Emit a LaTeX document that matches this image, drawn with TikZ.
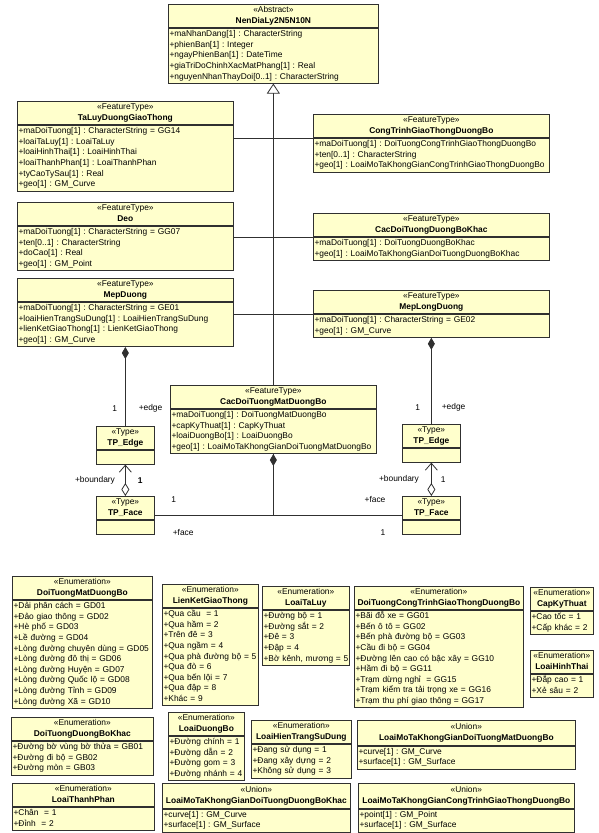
\documentclass[tikz,border=0pt]{standalone}
\usepackage{fontspec}
\setmainfont{Liberation Sans}
\usetikzlibrary{arrows.meta,positioning}
\definecolor{umlfill}{HTML}{FFFFCC}
\definecolor{umlline}{HTML}{303030}
\frenchspacing
\newcommand{\umlfont}{\fontsize{8.4}{10.6}\selectfont}
\newcommand{\umlhd}[2]{\begin{tabular}{@{}c@{}}«#1»\\\textbf{#2}\end{tabular}}
\newcommand{\umlat}[1]{\noindent\begin{tabular}{@{\hspace{1.2pt}}l@{}}#1\end{tabular}}
\tikzset{
  umlhead/.style={draw=umlline, line width=0.7pt, fill=umlfill, anchor=north west, inner xsep=0pt, inner ysep=1pt, font=\umlfont},
  unionhead/.style={umlhead, inner ysep=1.8pt},
  umlbody/.style={draw=umlline, line width=0.7pt, fill=umlfill, anchor=north west, inner xsep=0pt, inner ysep=1pt, align=left, font=\umlfont},
  lbl/.style={font=\umlfont, inner sep=1pt},
  conn/.style={draw=umlline, line width=0.8pt},
  genarrow/.style={conn, -{Triangle[open, fill=white, length=10pt, width=13pt]}},
  compo/.style={conn, {Diamond[length=12pt, width=7pt]}-},
  aggr/.style={conn, {Diamond[open, fill=white, length=13pt, width=8pt]}-{Straight Barb[length=7pt, width=12pt]}},
}

\begin{document}
\begin{tikzpicture}[x=1pt, y=-1pt]
    \useasboundingbox (0,0) rectangle (599,833);

    % Abstract base class
    \node[umlhead, minimum width=210pt] (nen) at (168,4) {\umlhd{Abstract}{NenDiaLy2N5N10N}};
    \node[umlbody, text width=210pt] (nen-b) at (nen.south west) {\umlat{+maNhanDang[1] : CharacterString\\+phienBan[1] : Integer\\+ngayPhienBan[1] : DateTime\\+giaTriDoChinhXacMatPhang[1] : Real\\+nguyenNhanThayDoi[0..1] : CharacterString}};

    % Feature types, left column
    \node[umlhead, minimum width=216pt] (taluy) at (17,101) {\umlhd{FeatureType}{TaLuyDuongGiaoThong}};
    \node[umlbody, text width=216pt] (taluy-b) at (taluy.south west) {\umlat{+maDoiTuong[1] : CharacterString = GG14\\+loaiTaLuy[1] : LoaiTaLuy\\+loaiHinhThai[1] : LoaiHinhThai\\+loaiThanhPhan[1] : LoaiThanhPhan\\+tyCaoTySau[1] : Real\\+geo[1] : GM\_Curve}};

    \node[umlhead, minimum width=216pt] (deo) at (17,202) {\umlhd{FeatureType}{Deo}};
    \node[umlbody, text width=216pt] (deo-b) at (deo.south west) {\umlat{+maDoiTuong[1] : CharacterString = GG07\\+ten[0..1] : CharacterString\\+doCao[1] : Real\\+geo[1] : GM\_Point}};

    \node[umlhead, minimum width=216pt] (mepduong) at (17,278) {\umlhd{FeatureType}{MepDuong}};
    \node[umlbody, text width=216pt] (mepduong-b) at (mepduong.south west) {\umlat{+maDoiTuong[1] : CharacterString = GE01\\+loaiHienTrangSuDung[1] : LoaiHienTrangSuDung\\+lienKetGiaoThong[1] : LienKetGiaoThong\\+geo[1] : GM\_Curve}};

    % Feature types, right column
    \node[umlhead, minimum width=236pt] (congtrinh) at (313,114) {\umlhd{FeatureType}{CongTrinhGiaoThongDuongBo}};
    \node[umlbody, text width=236pt] (congtrinh-b) at (congtrinh.south west) {\umlat{+maDoiTuong[1] : DoiTuongCongTrinhGiaoThongDuongBo\\+ten[0..1] : CharacterString\\+geo[1] : LoaiMoTaKhongGianCongTrinhGiaoThongDuongBo}};

    \node[umlhead, minimum width=236pt] (cacbokhac) at (313,213) {\umlhd{FeatureType}{CacDoiTuongDuongBoKhac}};
    \node[umlbody, text width=236pt] (cacbokhac-b) at (cacbokhac.south west) {\umlat{+maDoiTuong[1] : DoiTuongDuongBoKhac\\+geo[1] : LoaiMoTaKhongGianDoiTuongDuongBoKhac}};

    \node[umlhead, minimum width=236pt] (meplong) at (313,290) {\umlhd{FeatureType}{MepLongDuong}};
    \node[umlbody, text width=236pt] (meplong-b) at (meplong.south west) {\umlat{+maDoiTuong[1] : CharacterString = GE02\\+geo[1] : GM\_Curve}};

    % Middle feature type
    \node[umlhead, minimum width=206pt] (cacmat) at (170,385) {\umlhd{FeatureType}{CacDoiTuongMatDuongBo}};
    \node[umlbody, text width=206pt] (cacmat-b) at (cacmat.south west) {\umlat{+maDoiTuong[1] : DoiTuongMatDuongBo\\+capKyThuat[1] : CapKyThuat\\+loaiDuongBo[1] : LoaiDuongBo\\+geo[1] : LoaiMoTaKhongGianDoiTuongMatDuongBo}};

    % Topology types
    \node[umlhead, minimum width=58pt] (edgeL) at (96,426) {\umlhd{Type}{TP\_Edge}};
    \node[umlbody, text width=58pt, minimum height=14pt] (edgeL-b) at (edgeL.south west) {};
    \node[umlhead, minimum width=58pt] (faceL) at (96,496) {\umlhd{Type}{TP\_Face}};
    \node[umlbody, text width=58pt, minimum height=14pt] (faceL-b) at (faceL.south west) {};
    \node[umlhead, minimum width=58pt] (edgeR) at (402,424) {\umlhd{Type}{TP\_Edge}};
    \node[umlbody, text width=58pt, minimum height=14pt] (edgeR-b) at (edgeR.south west) {};
    \node[umlhead, minimum width=58pt] (faceR) at (402,496) {\umlhd{Type}{TP\_Face}};
    \node[umlbody, text width=58pt, minimum height=14pt] (faceR-b) at (faceR.south west) {};

    % Generalization
    \draw[genarrow] (cacmat.north) -- (nen-b.south);
    \draw[conn] (congtrinh-b.north west) -- (congtrinh-b.north west -| taluy.east);
    \draw[conn] (cacbokhac-b.north west) -- (cacbokhac-b.north west -| deo.east);
    \draw[conn] (meplong-b.north west) -- (meplong-b.north west -| mepduong.east);

    % Edges and faces
    \draw[compo] (mepduong-b.south) -- (edgeL.north)
        node[lbl, pos=0.78, left=7pt] {1} node[lbl, pos=0.78, right=12pt] {+edge};
    \draw[compo] (meplong-b.south) -- (edgeR.north)
        node[lbl, pos=0.81, left=10pt] {1} node[lbl, pos=0.81, right=9pt] {+edge};
    \draw[aggr] (faceL.north) -- (edgeL-b.south)
        node[lbl, midway, left=9pt] {+boundary} node[lbl, midway, right=11pt] {\textbf{1}};
    \draw[aggr] (faceR.north) -- (edgeR-b.south)
        node[lbl, midway, left=11pt] {+boundary} node[lbl, midway, right=8pt] {1};
    \draw[compo] (cacmat-b.south) |- ([yshift=5pt]faceL.south east)
        node[lbl, pos=0.92, above=11pt] {1} node[lbl, pos=0.88, below=13pt] {+face};
    \draw[conn] (cacmat-b.south) |- ([yshift=5pt]faceR.south west)
        node[lbl, pos=0.895, above=11pt] {+face} node[lbl, pos=0.926, below=13pt] {1};

    % Enumerations, first row
    \node[umlhead, minimum width=140pt] (matenum) at (12,576) {\umlhd{Enumeration}{DoiTuongMatDuongBo}};
    \node[umlbody, text width=140pt] (matenum-b) at (matenum.south west) {\umlat{+Dải phân cách = GD01\\+Đảo giao thông = GD02\\+Hè phố = GD03\\+Lề đường = GD04\\+Lòng đường chuyên dùng = GD05\\+Lòng đường đô thị = GD06\\+Lòng đường Huyện = GD07\\+Lòng đường Quốc lộ = GD08\\+Lòng đường Tỉnh = GD09\\+Lòng đường Xã = GD10}};

    \node[umlhead, minimum width=96pt] (lienket) at (162,584) {\umlhd{Enumeration}{LienKetGiaoThong}};
    \node[umlbody, text width=96pt] (lienket-b) at (lienket.south west) {\umlat{+Qua cầu\ \ = 1\\+Qua hầm = 2\\+Trên đê = 3\\+Qua ngầm = 4\\+Qua phà đường bộ = 5\\+Qua đò = 6\\+Qua bến lội = 7\\+Qua đập = 8\\+Khác = 9}};

    \node[umlhead, minimum width=87pt] (taluyenum) at (262,586) {\umlhd{Enumeration}{LoaiTaLuy}};
    \node[umlbody, text width=87pt] (taluyenum-b) at (taluyenum.south west) {\umlat{+Đường bộ = 1\\+Đường sắt = 2\\+Đê = 3\\+Đập = 4\\+Bờ kênh, mương = 5}};

    \node[umlhead, minimum width=169pt] (ctenum) at (354,586) {\umlhd{Enumeration}{DoiTuongCongTrinhGiaoThongDuongBo}};
    \node[umlbody, text width=169pt] (ctenum-b) at (ctenum.south west) {\umlat{+Bãi đỗ xe = GG01\\+Bến ô tô = GG02\\+Bến phà đường bộ = GG03\\+Cầu đi bộ = GG04\\+Đường lên cao có bậc xây = GG10\\+Hầm đi bộ = GG11\\+Trạm dừng nghỉ\ \ = GG15\\+Trạm kiểm tra tải trọng xe = GG16\\+Trạm thu phí giao thông = GG17}};

    \node[umlhead, minimum width=63pt] (capkt) at (530,587) {\umlhd{Enumeration}{CapKyThuat}};
    \node[umlbody, text width=63pt] (capkt-b) at (capkt.south west) {\umlat{+Cao tốc = 1\\+Cấp khác = 2}};

    \node[umlhead, minimum width=63pt] (hinhthai) at (530,650) {\umlhd{Enumeration}{LoaiHinhThai}};
    \node[umlbody, text width=63pt] (hinhthai-b) at (hinhthai.south west) {\umlat{+Đắp cao = 1\\+Xẻ sâu = 2}};

    % Enumerations and unions, second row
    \node[umlhead, minimum width=142pt] (bokhacenum) at (11,717) {\umlhd{Enumeration}{DoiTuongDuongBoKhac}};
    \node[umlbody, text width=142pt] (bokhacenum-b) at (bokhacenum.south west) {\umlat{+Đường bờ vùng bờ thửa = GB01\\+Đường đi bộ = GB02\\+Đường mòn = GB03}};

    \node[umlhead, minimum width=76pt] (duongbo) at (168,712) {\umlhd{Enumeration}{LoaiDuongBo}};
    \node[umlbody, text width=76pt] (duongbo-b) at (duongbo.south west) {\umlat{+Đường chính = 1\\+Đường dẫn = 2\\+Đường gom = 3\\+Đường nhánh = 4}};

    \node[umlhead, minimum width=100pt] (hientrang) at (251,720) {\umlhd{Enumeration}{LoaiHienTrangSuDung}};
    \node[umlbody, text width=100pt] (hientrang-b) at (hientrang.south west) {\umlat{+Đang sử dụng = 1\\+Đang xây dựng = 2\\+Không sử dụng = 3}};

    \node[unionhead, minimum width=218pt] (unionmat) at (357,720) {\umlhd{Union}{LoaiMoTaKhongGianDoiTuongMatDuongBo}};
    \node[umlbody, text width=218pt] (unionmat-b) at (unionmat.south west) {\umlat{+curve[1] : GM\_Curve\\+surface[1] : GM\_Surface}};

    % Third row
    \node[umlhead, minimum width=142pt] (thanhphan) at (12,783) {\umlhd{Enumeration}{LoaiThanhPhan}};
    \node[umlbody, text width=142pt] (thanhphan-b) at (thanhphan.south west) {\umlat{+Chân\ \ = 1\\+Đỉnh\ \ = 2}};

    \node[unionhead, minimum width=188pt] (unionbokhac) at (162,783) {\umlhd{Union}{LoaiMoTaKhongGianDoiTuongDuongBoKhac}};
    \node[umlbody, text width=188pt] (unionbokhac-b) at (unionbokhac.south west) {\umlat{+curve[1] : GM\_Curve\\+surface[1] : GM\_Surface}};

    \node[unionhead, minimum width=216pt] (unionct) at (358,783) {\umlhd{Union}{LoaiMoTaKhongGianCongTrinhGiaoThongDuongBo}};
    \node[umlbody, text width=216pt] (unionct-b) at (unionct.south west) {\umlat{+point[1] : GM\_Point\\+surface[1] : GM\_Surface}};
\end{tikzpicture}
\end{document}
